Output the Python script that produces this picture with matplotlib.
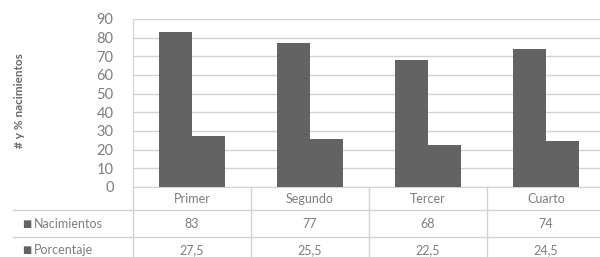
import numpy as np
import matplotlib.pyplot as plt
from matplotlib.transforms import blended_transform_factory

# data
categorias = ['Primer', 'Segundo', 'Tercer', 'Cuarto']
nacimientos = [83, 77, 68, 74]
porcentaje = [27.5, 25.5, 22.5, 24.5]
series = ['Nacimientos', 'Porcentaje']

gris_barra = '#636363'
gris_texto = '#7d7d7d'
gris_linea = '#d2d2d2'

plt.rcParams['font.family'] = ['Lato', 'DejaVu Sans']

fig = plt.figure(figsize=(6, 2.57), dpi=100)
ax = fig.add_axes([133 / 600, 1 - 187 / 257, 472 / 600, 168 / 257])

x = np.arange(len(categorias))
ancho = 0.28
ax.bar(x - ancho / 2, nacimientos, ancho, color=gris_barra, zorder=3)
ax.bar(x + ancho / 2, porcentaje, ancho, color=gris_barra, zorder=3)

ax.set_xlim(-0.5, len(categorias) - 0.5)
ax.set_ylim(0, 90)
ax.set_yticks(range(0, 91, 10))
ax.set_xticks([])
ax.tick_params(axis='y', length=0, pad=14, labelsize=10.5, labelcolor=gris_texto)
ax.grid(axis='y', color=gris_linea, linewidth=1, zorder=0)
for s in ['top', 'right']:
    ax.spines[s].set_visible(False)
for s in ['left', 'bottom']:
    ax.spines[s].set_color(gris_linea)

fig.text(20 / 600, 1 - 101 / 257, '# y % nacimientos', rotation=90, ha='center', va='center',
         fontsize=8.5, fontweight='bold', color='#6a6a6a')

# tabla de datos
tr = blended_transform_factory(ax.transData, ax.transAxes)
px = 1 / 168  # un pixel en fraccion de eje (vertical)
y_fila1 = -(210 - 187) * px
y_fila2 = -(237 - 187) * px
y_fin = -(265 - 187) * px
x_izq = -0.5 - 120 / 118

for b in np.arange(-0.5, len(categorias), 1.0):
    ax.plot([b, b], [0, y_fin], transform=tr, color=gris_linea, lw=1, clip_on=False)
for yy in [y_fila1, y_fila2]:
    ax.plot([x_izq, len(categorias) - 0.5], [yy, yy], transform=tr, color=gris_linea, lw=1, clip_on=False)

for i, c in enumerate(categorias):
    ax.text(i, -(199 - 187) * px, c, transform=tr, ha='center', va='center', fontsize=9, color=gris_texto)
    ax.text(i, -(224 - 187) * px, str(nacimientos[i]), transform=tr, ha='center', va='center',
            fontsize=9, color=gris_texto)
    ax.text(i, -(250 - 187) * px, str(porcentaje[i]).replace('.', ','), transform=tr, ha='center',
            va='center', fontsize=9, color=gris_texto)

for nombre, yc in zip(series, [224, 250]):
    fig.text(22 / 600, 1 - yc / 257, '\u25a0', ha='left', va='center', fontsize=7, color=gris_barra)
    fig.text(34 / 600, 1 - yc / 257, nombre, ha='left', va='center', fontsize=9, color=gris_texto)

fig.savefig('out.png', dpi=100)
